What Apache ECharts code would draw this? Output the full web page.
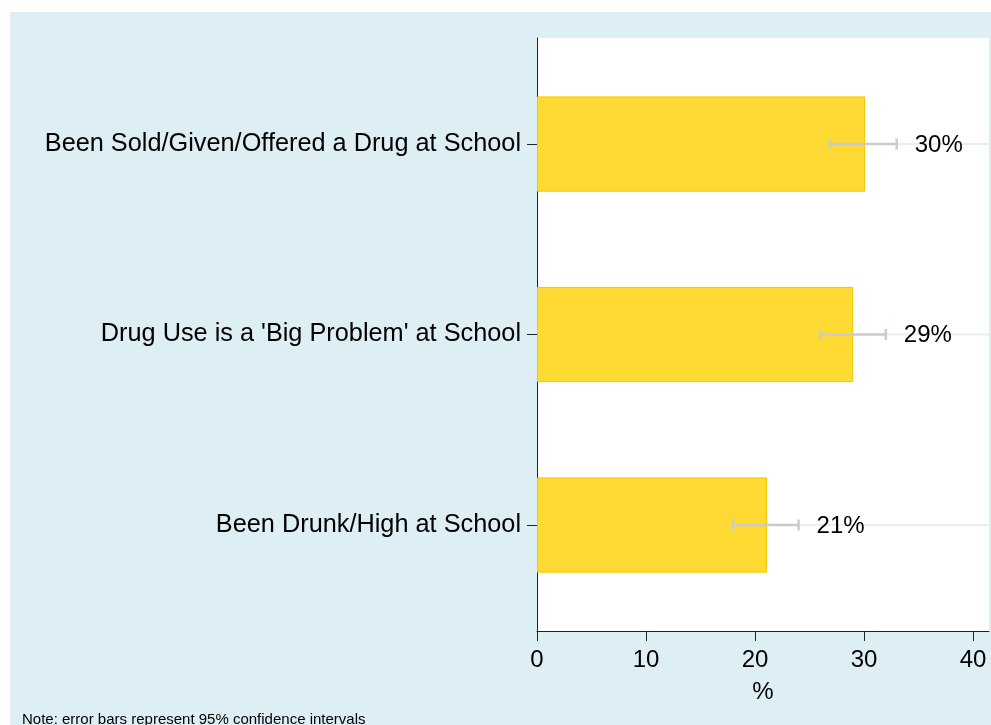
<!DOCTYPE html>
<html><head><meta charset="utf-8">
<script src="https://cdn.jsdelivr.net/npm/echarts@6/dist/echarts.min.js"></script>
<style>
html,body{margin:0;padding:0;background:#fff;}
#wrap{position:relative;width:991px;height:725px;overflow:hidden;}
#bg{position:absolute;left:10px;top:12px;right:0;bottom:0;background:#deeef5;}
#chart{position:absolute;left:0;top:0;width:991px;height:725px;}
</style></head><body>
<div id="wrap"><div id="bg"></div><div id="chart"></div></div>
<script>
const categories = ["Been Sold/Given/Offered a Drug at School", "Drug Use is a 'Big Problem' at School", "Been Drunk/High at School"];
const values = [30.1, 29.0, 21.1];
const ciLow = [26.9, 26.0, 18.0];
const ciHigh = [33.0, 32.0, 24.0];
const valueLabels = ["30%", "29%", "21%"];
const xTicks = [0, 10, 20, 30, 40];
const xMax = 41.47;
const xName = "%";
const note = "Note: error bars represent 95% confidence intervals";

const FONT = "'Liberation Sans', Arial, Helvetica, sans-serif";
const chart = echarts.init(document.getElementById('chart'), null, {renderer: 'canvas'});

const option = {
  backgroundColor: 'transparent',
  animation: false,
  textStyle: {fontFamily: FONT},
  grid: [
    {left: 537, right: 2, top: 38, bottom: 94, show: true, backgroundColor: '#ffffff', borderWidth: 0},
    {left: 537, right: 2, top: 48.75, bottom: 104.75}
  ],
  xAxis: [
    {
      gridIndex: 0, type: 'value', min: 0, max: xMax, interval: 10,
      axisLine: {show: true, lineStyle: {color: '#222', width: 1}},
      axisTick: {show: true, length: 10, customValues: xTicks, lineStyle: {color: '#222', width: 1}},
      axisLabel: {customValues: xTicks, fontSize: 24, color: '#000', margin: 17, fontFamily: FONT},
      splitLine: {show: false},
      name: xName, nameLocation: 'middle', nameGap: 49,
      nameTextStyle: {fontSize: 24, color: '#000', fontFamily: FONT}
    },
    {gridIndex: 1, type: 'value', min: 0, max: xMax, show: false}
  ],
  yAxis: [
    {
      gridIndex: 0, type: 'value', min: 0, max: 1,
      axisLine: {show: true, lineStyle: {color: '#222', width: 1}},
      axisTick: {show: false}, axisLabel: {show: false}, splitLine: {show: false}
    },
    {
      gridIndex: 1, type: 'category', data: categories, inverse: true,
      axisLine: {show: false},
      axisTick: {show: true, alignWithLabel: true, length: 10, lineStyle: {color: '#222', width: 1}},
      axisLabel: {fontSize: 25.3, color: '#000', margin: 16, fontFamily: FONT},
      splitLine: {show: false}
    }
  ],
  graphic: [
    {type: 'text', left: 22, top: 712, silent: true,
     style: {text: note, fontSize: 15, fill: '#000', fontFamily: FONT}}
  ],
  series: [
    {
      type: 'custom', xAxisIndex: 1, yAxisIndex: 1, z: 1, silent: true,
      data: categories.map((c, i) => [0, i]),
      encode: {x: 0, y: 1},
      renderItem: function (params, api) {
        const idx = api.value(1);
        const p0 = api.coord([0, idx]);
        const p1 = api.coord([xMax, idx]);
        return {type: 'line', shape: {x1: p0[0], y1: p0[1], x2: p1[0], y2: p1[1]},
          style: {stroke: '#e6f0f4', lineWidth: 2}};
      }
    },
    {
      type: 'bar', xAxisIndex: 1, yAxisIndex: 1, z: 2, silent: true,
      data: values, barWidth: '50%',
      itemStyle: {color: '#ffda33', borderColor: '#f4c700', borderWidth: 1}
    },
    {
      type: 'custom', xAxisIndex: 1, yAxisIndex: 1, z: 3, silent: true,
      data: ciLow.map((lo, i) => [lo, i, ciHigh[i]]),
      encode: {x: [0, 2], y: 1},
      renderItem: function (params, api) {
        const idx = api.value(1);
        const pL = api.coord([api.value(0), idx]);
        const pH = api.coord([api.value(2), idx]);
        const cap = 5.5;
        const st = {stroke: '#cbcbcb', lineWidth: 2.5};
        return {
          type: 'group',
          children: [
            {type: 'line', shape: {x1: pL[0], y1: pL[1], x2: pH[0], y2: pH[1]}, style: st},
            {type: 'line', shape: {x1: pL[0], y1: pL[1] - cap, x2: pL[0], y2: pL[1] + cap}, style: st},
            {type: 'line', shape: {x1: pH[0], y1: pH[1] - cap, x2: pH[0], y2: pH[1] + cap}, style: st},
            {type: 'text', x: pH[0] + 18, y: pH[1] + 1,
             style: {text: valueLabels[params.dataIndex], fontSize: 24, fill: '#000', fontFamily: FONT,
                     align: 'left', verticalAlign: 'middle'}}
          ]
        };
      }
    }
  ]
};
chart.setOption(option);
</script>
</body></html>
